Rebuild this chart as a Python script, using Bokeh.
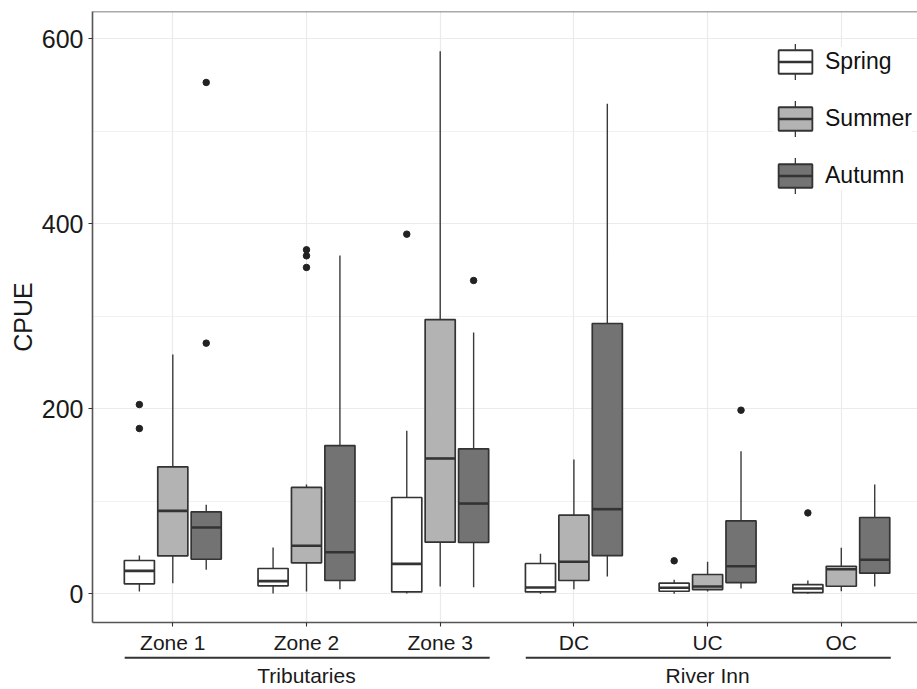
from bokeh.plotting import figure
from bokeh.models import (Range1d, FixedTicker, Legend, LegendItem,
                          ColumnDataSource, Span)
from bokeh.layouts import column
from bokeh.embed import file_html
from bokeh.resources import INLINE
from bokeh.core.properties import value

# ---------------- data ----------------
categories = ["Zone 1", "Zone 2", "Zone 3", "DC", "UC", "OC"]
group_names = ["Tributaries", "River Inn"]
group_members = [["Zone 1", "Zone 2", "Zone 3"], ["DC", "UC", "OC"]]
seasons = ["Spring", "Summer", "Autumn"]
y_ticks = [0, 200, 400, 600]

spring_low = [2.5, 0.3, 0.3, 0.0, 0.0, 0.0]
spring_q1 = [10.8, 8.6, 2.1, 2.1, 2.8, 1.4]
spring_median = [24.8, 13.7, 32.4, 6.8, 6.5, 5.7]
spring_q3 = [36.0, 27.4, 104.1, 32.8, 11.5, 10.0]
spring_high = [41.4, 50.0, 176.2, 43.2, 15.1, 14.4]
spring_outliers = [[204.6, 178.7], [], [388.8], [], [35.7], [87.5]]

summer_low = [11.5, 2.5, 7.9, 5.0, 2.5, 2.8]
summer_q1 = [41.0, 33.5, 55.8, 14.4, 4.6, 8.2]
summer_median = [89.7, 51.9, 146.3, 34.6, 7.9, 26.6]
summer_q3 = [137.3, 115.0, 296.5, 85.0, 20.9, 29.8]
summer_high = [258.7, 118.2, 586.6, 145.2, 34.6, 49.7]
summer_outliers = [[], [371.9, 365.4, 352.8], [], [], [], []]

autumn_low = [25.9, 5.0, 7.2, 18.7, 5.7, 7.9]
autumn_q1 = [37.4, 14.4, 55.5, 41.4, 12.2, 22.3]
autumn_median = [71.7, 45.0, 97.6, 91.5, 29.8, 36.8]
autumn_q3 = [88.6, 160.3, 156.7, 292.2, 78.9, 82.5]
autumn_high = [96.2, 365.7, 282.5, 529.7, 154.2, 118.2]
autumn_outliers = [[552.8, 271.0], [], [338.7], [], [198.5], []]

season_data = {
    "Spring": (spring_low, spring_q1, spring_median, spring_q3, spring_high, spring_outliers),
    "Summer": (summer_low, summer_q1, summer_median, summer_q3, summer_high, summer_outliers),
    "Autumn": (autumn_low, autumn_q1, autumn_median, autumn_q3, autumn_high, autumn_outliers),
}

# ---------------- style ----------------
FONT = "Liberation Sans"
fills = {"Spring": "#ffffff", "Summer": "#b3b3b3", "Autumn": "#737373"}
EDGE = "#333333"
FRAME = "#555555"
GRID = "#ebebeb"
dodge = 0.25
box_w = 0.225

x_pos = [i + 1 for i in range(len(categories))]
x_range = Range1d(0.3994, 6.570)
y_range = Range1d(-31.0, 629.5)

p = figure(frame_width=825, frame_height=611, x_range=x_range,
           y_range=y_range,
           output_backend="svg", toolbar_location=None,
           min_border_left=92, min_border_right=0, min_border_top=11,
           min_border_bottom=0,
           background_fill_color="white", border_fill_color="white")

p.outline_line_color = None
p.add_layout(Span(location=y_range.end, dimension="width",
                  line_color=FRAME, line_width=1.6))

p.xgrid.ticker = FixedTicker(ticks=x_pos)
p.xgrid.grid_line_color = GRID
p.xgrid.grid_line_width = 1.2
minor_y = [(a + b) / 2 for a, b in zip(y_ticks[:-1], y_ticks[1:])]
p.ygrid.ticker = FixedTicker(ticks=y_ticks, minor_ticks=minor_y)
p.ygrid.grid_line_color = GRID
p.ygrid.grid_line_width = 1.2
p.ygrid.minor_grid_line_color = GRID
p.ygrid.minor_grid_line_width = 0.7

p.xaxis.ticker = FixedTicker(ticks=x_pos)
p.xaxis.major_label_overrides = {x: c for x, c in zip(x_pos, categories)}
p.yaxis.ticker = FixedTicker(ticks=y_ticks)
p.yaxis.axis_label = "CPUE"
for ax in p.axis:
    ax.axis_line_color = FRAME
    ax.axis_line_width = 1.6
    ax.major_tick_line_color = "#333333"
    ax.major_tick_line_width = 1.1
    ax.major_tick_out = 4
    ax.major_tick_in = 0
    ax.minor_tick_line_color = None
    ax.major_label_text_font = FONT
    ax.major_label_text_color = "#1a1a1a"
    ax.axis_label_text_font = FONT
    ax.axis_label_text_font_style = "normal"
    ax.axis_label_text_color = "#1a1a1a"
p.xaxis.major_label_standoff = 4
p.yaxis.major_label_standoff = 5
p.xaxis.major_label_text_font_size = "21px"
p.yaxis.major_label_text_font_size = "25px"
p.yaxis.axis_label_text_font_size = "25px"
p.yaxis.axis_label_standoff = 2

box_r, med_r, whisk_r = {}, {}, {}
for k, s in enumerate(seasons):
    low, q1, med, q3, high, outs = season_data[s]
    xs = [x + (k - 1) * dodge for x in x_pos]
    src = ColumnDataSource(dict(
        x=xs,
        x0=[x - box_w / 2 for x in xs],
        x1=[x + box_w / 2 for x in xs],
        low=low, q1=q1, med=med, q3=q3, high=high))
    p.segment(x0="x", x1="x", y0="q3", y1="high", source=src,
              line_color="#3a3a3a", line_width=1.4)
    p.segment(x0="x", x1="x", y0="low", y1="q1", source=src,
              line_color="#3a3a3a", line_width=1.4)
    whisk_r[s] = p.vbar(x="x", bottom="low", top="high", width=0.01, source=src,
                        fill_color="#3a3a3a", line_color=None, visible=False)
    box_r[s] = p.vbar(x="x", bottom="q1", top="q3", width=box_w, source=src,
                      fill_color=fills[s], line_color=EDGE, line_width=1.7)
    med_r[s] = p.segment(x0="x0", x1="x1", y0="med", y1="med", source=src,
                         line_color=EDGE, line_width=2.6)
    ox = [xs[i] for i, o in enumerate(outs) for _ in o]
    oy = [v for o in outs for v in o]
    p.scatter(ox, oy, size=6.5, color="#222222")


def add_legend(rmap, labels, gw, gh, spacing, padding, loc, bg_alpha,
               font_size, standoff):
    items = [LegendItem(label=lab, renderers=[rmap[s]])
             for s, lab in zip(seasons, labels)]
    lg = Legend(items=items, location=loc, glyph_width=gw, glyph_height=gh,
                spacing=spacing, padding=padding, margin=0,
                background_fill_color="white", background_fill_alpha=bg_alpha,
                border_line_color=None, label_text_font=FONT,
                label_text_font_size=font_size,
                label_text_color="#111111", label_standoff=standoff,
                label_height=10)
    p.add_layout(lg)


blank = [" "] * len(seasons)
# background + labels, whiskers, boxes, medians (stacked key layers)
add_legend(box_r, seasons, 42, 29, 28, 10, (682, 432.1), 1.0, "23px", 9)
add_legend(whisk_r, blank, 2, 45, 12, 0, (702, 424.1), 0.0, "10px", 0)
add_legend(box_r, blank, 42, 29, 28, 0, (682, 432.1), 0.0, "10px", 0)
add_legend(med_r, blank, 34, 29, 28, 0, (686, 432.1), 0.0, "10px", 0)

# ---------------- group strip ----------------
H2 = 31
g = figure(frame_width=825, frame_height=H2, x_range=x_range,
           y_range=Range1d(H2, 0), x_axis_location=None, y_axis_location=None,
           output_backend="svg", toolbar_location=None,
           min_border_left=92, min_border_right=0, min_border_top=0,
           min_border_bottom=0, outline_line_color=None,
           background_fill_color="white", border_fill_color="white")
g.grid.visible = False

g_first = [categories.index(m[0]) + 1 for m in group_members]
g_last = [categories.index(m[-1]) + 1 for m in group_members]
g.segment(x0=[a - 0.36 for a in g_first], x1=[b + 0.37 for b in g_last],
          y0=[1.1] * len(group_names), y1=[1.1] * len(group_names),
          line_color="#333333", line_width=2.2)
g.text(x=[(a + b) / 2 for a, b in zip(g_first, g_last)],
       y=[19] * len(group_names), text=group_names,
       text_align="center", text_baseline="middle",
       text_font=value(FONT), text_font_size="21px", text_color="#1a1a1a")

layout = column(p, g, spacing=0)
open("out.html", "w").write(file_html(layout, INLINE, title="CPUE"))
